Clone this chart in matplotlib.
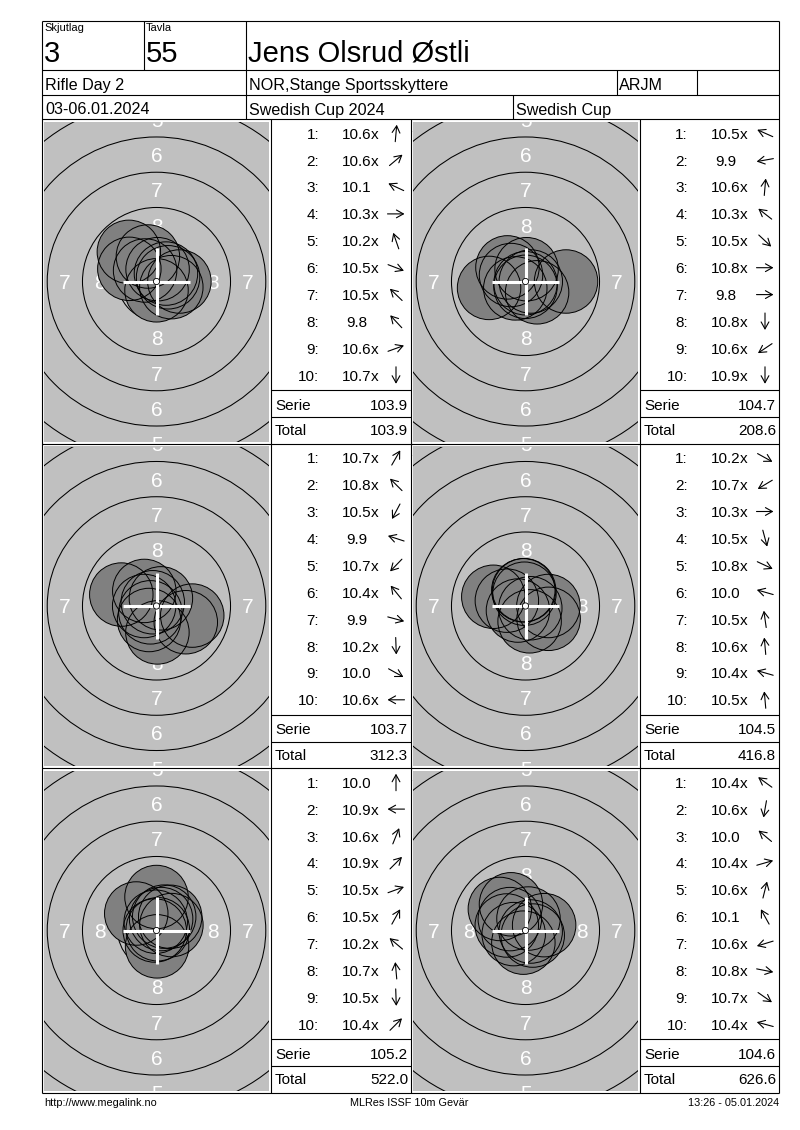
import numpy as np
import matplotlib.pyplot as plt
from matplotlib.patches import Circle

FONT = 'Liberation Sans'

# header / footer texts
SKJUTLAG = '3'
TAVLA = '55'
SHOOTER = 'Jens Olsrud Østli'
EVENT = 'Rifle Day 2'
CLUB = 'NOR,Stange Sportsskyttere'
CLASS = 'ARJM'
DATES = '03-06.01.2024'
COMPETITION = 'Swedish Cup 2024'
CUP = 'Swedish Cup'
FOOTER_LEFT = 'http://www.megalink.no'
FOOTER_MID = 'MLRes ISSF 10m Gevär'
FOOTER_RIGHT = '13:26 - 05.01.2024'

SERIES_NAMES = ['Serie 1', 'Serie 2', 'Serie 3', 'Serie 4', 'Serie 5', 'Serie 6']

# shot values, inner-ten flag and direction of the shot (degrees, 0 = right, 90 = up)
scores_1 = [10.6, 10.6, 10.1, 10.3, 10.2, 10.5, 10.5, 9.8, 10.6, 10.7]
inner_1 = [1, 1, 0, 1, 1, 1, 1, 0, 1, 1]
angles_1 = [85, 40, 155, 0, 109, -21, 136, 133, 20, -90]

scores_2 = [10.5, 9.9, 10.6, 10.3, 10.5, 10.8, 9.8, 10.8, 10.6, 10.9]
inner_2 = [1, 0, 1, 1, 1, 1, 0, 1, 1, 1]
angles_2 = [156, 190, 85, 142, -43, 0, 0, -90, 214, -90]

scores_3 = [10.7, 10.8, 10.5, 9.9, 10.7, 10.4, 9.9, 10.2, 10.0, 10.6]
inner_3 = [1, 1, 1, 0, 1, 1, 0, 1, 0, 1]
angles_3 = [60, 135, 242, 162, 226, 129, -15, -88, -29, 180]

scores_4 = [10.2, 10.7, 10.3, 10.5, 10.8, 10.0, 10.5, 10.6, 10.4, 10.5]
inner_4 = [1, 1, 1, 1, 1, 0, 1, 1, 1, 1]
angles_4 = [-29, 211, 0, -75, -25, 164, 98, 95, 164, 95]

scores_5 = [10.0, 10.9, 10.6, 10.9, 10.5, 10.5, 10.2, 10.7, 10.5, 10.4]
inner_5 = [0, 1, 1, 1, 1, 1, 1, 1, 1, 1]
angles_5 = [90, 180, 68, 45, 20, 61, 140, 95, -88, 45]

scores_6 = [10.4, 10.6, 10.0, 10.4, 10.6, 10.1, 10.6, 10.8, 10.7, 10.4]
inner_6 = [1, 1, 0, 1, 1, 0, 1, 1, 1, 1]
angles_6 = [144, -100, 140, 16, 76, 119, 197, -11, -35, 165]

SERIE_SUMS = [103.9, 104.7, 103.7, 104.5, 105.2, 104.6]
TOTALS = [103.9, 208.6, 312.3, 416.8, 522.0, 626.6]

ALL_SCORES = [scores_1, scores_2, scores_3, scores_4, scores_5, scores_6]
ALL_INNER = [inner_1, inner_2, inner_3, inner_4, inner_5, inner_6]
ALL_ANGLES = [angles_1, angles_2, angles_3, angles_4, angles_5, angles_6]

W, H = 800, 1130
PX_MM = 14.1          # target zoom, pixels per mm
PELLET_R = 2.25       # 4.5 mm pellet


def ring_r(k):
    # outer radius (mm) of ring k on the ISSF 10m air rifle target
    return 0.25 + 2.5 * (10 - k)


fig = plt.figure(figsize=(W / 100, H / 100), dpi=100)
page = fig.add_axes([0, 0, 1, 1])
page.set_xlim(0, W)
page.set_ylim(H, 0)
page.axis('off')


def line(x0, y0, x1, y1):
    page.plot([x0, x1], [y0, y1], color='black', lw=0.8, solid_capstyle='butt')


def txt(x, y, s, size=11, ha='left'):
    page.text(x, y, s, fontsize=size, ha=ha, va='baseline', family=FONT, color='black')


# frame and header
L, R, T, B = 42, 779, 21, 1093
line(L, T, R, T)
line(L, B, R, B)
line(L, T, L, B)
line(R, T, R, B)
line(144, T, 144, 70)
line(246, T, 246, 119)
for y in (70, 95, 119):
    line(L, y, R, y)
line(617, 70, 617, 95)
line(697, 70, 697, 95)
line(513, 95, 513, 119)

txt(44, 31, 'Skjutlag', size=8)
txt(146, 31, 'Tavla', size=8)
txt(44, 61.5, SKJUTLAG, size=21)
txt(146, 61.5, TAVLA, size=21)
txt(248, 61.5, SHOOTER, size=21)
txt(45, 90, EVENT, size=11.6)
txt(249, 90, CLUB, size=11.6)
txt(619, 90, CLASS, size=11.6)
txt(45, 114.5, DATES, size=11.6)
txt(249, 114.5, COMPETITION, size=11.6)
txt(516, 114.5, CUP, size=11.6)

txt(L + 2, 1106, FOOTER_LEFT, size=7.8)
txt(409, 1106, FOOTER_MID, size=7.8, ha='center')
txt(R, 1106, FOOTER_RIGHT, size=7.8, ha='right')

# body grid
ROW_TOPS = [119, 443.5, 768]
ROW_H = 324.5
for y in ROW_TOPS[1:]:
    line(L, y, R, y)
for x in (271, 411, 640):
    line(x, 119, x, B)

TARGET_COLS = [(42, 271), (411, 640)]
SCORE_COLS = [(271, 411), (640, 779)]
ARROW_LEN = 17

for i in range(6):
    row, col = divmod(i, 2)
    top = ROW_TOPS[row]
    scores, inner, angles = ALL_SCORES[i], ALL_INNER[i], ALL_ANGLES[i]

    # ---- target panel ----
    cl, cr = TARGET_COLS[col]
    x0, x1 = cl + 2, cr - 2
    y0, y1 = top + 3, top + ROW_H - 2
    cx, cy = (cl + cr) / 2, top + 162.5
    t = fig.add_axes([x0 / W, 1 - y1 / H, (x1 - x0) / W, (y1 - y0) / H])
    t.set_facecolor('#c0c0c0')
    xl = ((x0 - cx) / PX_MM, (x1 - cx) / PX_MM)
    yl = ((cy - y1) / PX_MM, (cy - y0) / PX_MM)
    t.set_xlim(*xl)
    t.set_ylim(*yl)
    t.set_xticks([])
    t.set_yticks([])
    for s in t.spines.values():
        s.set_visible(False)

    for k in range(1, 11):
        t.add_patch(Circle((0, 0), ring_r(k), fill=False, ec='black', lw=0.75, zorder=1))
    for k in range(1, 9):
        rl = (ring_r(k) + ring_r(k + 1)) / 2
        for dx, dy in ((0, 1), (0, -1), (1, 0), (-1, 0)):
            lx, ly = dx * rl, dy * rl
            if not (xl[0] - 0.3 <= lx <= xl[1] + 0.3 and yl[0] - 0.3 <= ly <= yl[1] + 0.3):
                continue
            t.text(lx, ly - 0.53, str(k), color='white', fontsize=15,
                   ha='center', va='baseline', family=FONT, zorder=2, clip_on=True)

    sc = np.array(scores)
    d = np.clip((11.0 - sc - 0.05) * 2.5, 0, None)
    a = np.radians(angles)
    sx, sy = d * np.cos(a), d * np.sin(a)
    for px, py in zip(sx, sy):
        t.add_patch(Circle((px, py), PELLET_R, fc='#808080', ec='none', zorder=3))
    for px, py in zip(sx, sy):
        t.add_patch(Circle((px, py), PELLET_R, fill=False, ec='black', lw=0.7, zorder=4))

    ch = 2.35
    t.plot([-ch, ch], [0, 0], color='white', lw=2.2, zorder=5, solid_capstyle='butt')
    t.plot([0, 0], [-ch, ch], color='white', lw=2.2, zorder=5, solid_capstyle='butt')
    t.add_patch(Circle((0, 0), 0.22, fc='white', ec='black', lw=0.6, zorder=6))

    page.text(cl + 1.5, top + 15, SERIES_NAMES[i], fontsize=11.3, family=FONT,
              va='baseline', ha='left', zorder=10)

    # ---- score column ----
    sl, sr = SCORE_COLS[col]
    line(sl, top + 271, sr, top + 271)
    line(sl, top + 298, sr, top + 298)
    for n in range(10):
        yb = top + 19.7 + 26.9 * n
        txt(sl + 48, yb, f'{n + 1}:', ha='right')
        txt(sl + 85.5, yb, f'{scores[n]:.1f}', ha='center')
        if inner[n]:
            txt(sl + 100, yb, 'x')
        ac, yc = sl + 125, yb - 5.5
        ang = np.radians(angles[n])
        ux, uy = np.cos(ang) * ARROW_LEN / 2, -np.sin(ang) * ARROW_LEN / 2
        page.annotate('', xy=(ac + ux, yc + uy), xytext=(ac - ux, yc - uy),
                      arrowprops=dict(arrowstyle='->,head_length=0.5,head_width=0.28',
                                      lw=0.8, color='black', shrinkA=0, shrinkB=0))
    txt(sl + 4, top + 290.7, 'Serie')
    txt(sr - 3, top + 290.7, f'{SERIE_SUMS[i]:.1f}', ha='right')
    txt(sl + 4, top + 316.3, 'Total')
    txt(sr - 3, top + 316.3, f'{TOTALS[i]:.1f}', ha='right')

fig.savefig('out.png', dpi=100, facecolor='white')
